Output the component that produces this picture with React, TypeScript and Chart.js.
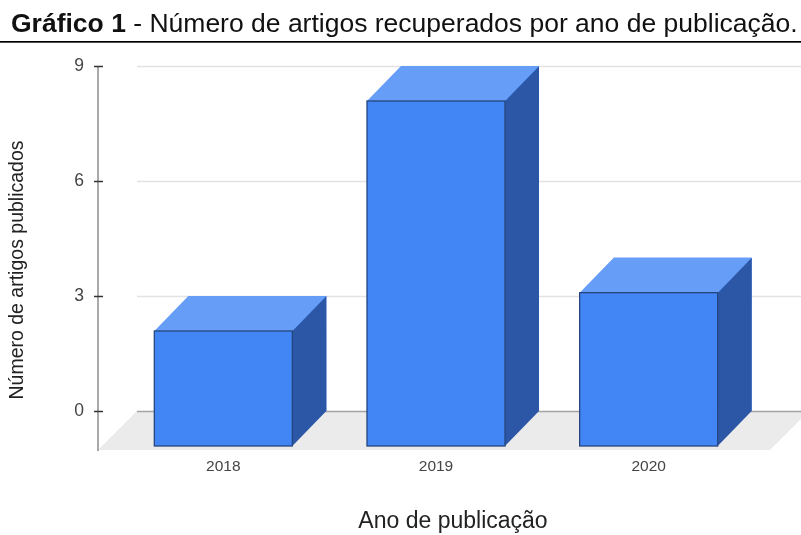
import React, { useEffect, useRef } from 'react';
import { Chart, registerables } from 'chart.js';

Chart.register(...registerables);

const TITLE_BOLD = 'Gráfico 1';
const TITLE_REST = ' - Número de artigos recuperados por ano de publicação.';
const Y_TITLE = 'Número de artigos publicados';
const X_TITLE = 'Ano de publicação';
const YEARS = ['2018', '2019', '2020'];
const ARTICLES = [3, 9, 4];
const Y_TICKS = [0, 3, 6, 9];

const FONT = '"Liberation Sans", Arial, sans-serif';
const DX = 34;
const DY = 35;
const FLOOR_DEPTH = 39;

const threeD = {
  id: 'threeD',
  beforeDatasetsDraw(chart: any) {
    const { ctx, chartArea: ca, scales } = chart;
    const y = scales.y;
    const y0 = y.getPixelForValue(0);
    const backL = ca.left - 14;
    const backR = ca.right + 20;
    ctx.save();
    // floor
    ctx.fillStyle = '#ebebeb';
    ctx.beginPath();
    ctx.moveTo(backL, y0);
    ctx.lineTo(backR, y0);
    ctx.lineTo(backR - FLOOR_DEPTH, y0 + FLOOR_DEPTH);
    ctx.lineTo(backL - FLOOR_DEPTH, y0 + FLOOR_DEPTH);
    ctx.closePath();
    ctx.fill();
    // gridlines on back wall
    Y_TICKS.forEach((t) => {
      const py = Math.round(y.getPixelForValue(t)) + 0.5;
      ctx.strokeStyle = t === 0 ? '#a3a3a3' : '#e3e3e3';
      ctx.lineWidth = t === 0 ? 1.6 : 1.3;
      ctx.beginPath();
      ctx.moveTo(backL, py);
      ctx.lineTo(chart.width, py);
      ctx.stroke();
    });
    // axis line
    const ax = backL - FLOOR_DEPTH;
    ctx.strokeStyle = '#8c8c8c';
    ctx.lineWidth = 1.5;
    ctx.beginPath();
    ctx.moveTo(ax, y.getPixelForValue(Y_TICKS[Y_TICKS.length - 1]));
    ctx.lineTo(ax, y0 + FLOOR_DEPTH + 1);
    ctx.stroke();
    // tick marks
    ctx.strokeStyle = '#333333';
    ctx.lineWidth = 1.5;
    Y_TICKS.forEach((t) => {
      const py = Math.round(y.getPixelForValue(t)) + 0.5;
      ctx.beginPath();
      ctx.moveTo(ax - 4, py);
      ctx.lineTo(ax + 5, py);
      ctx.stroke();
    });
    ctx.restore();
  },
  afterDatasetsDraw(chart: any) {
    const { ctx } = chart;
    const meta = chart.getDatasetMeta(0);
    ctx.save();
    meta.data.forEach((bar: any) => {
      const p = bar.getProps(['x', 'y', 'base', 'width'], true);
      const l = p.x - p.width / 2 - DX;
      const r = p.x + p.width / 2 - DX;
      const t = p.y + DY;
      const b = p.base + DY;
      // side face
      ctx.fillStyle = '#2b57a6';
      ctx.beginPath();
      ctx.moveTo(r, t);
      ctx.lineTo(r + DX, t - DY);
      ctx.lineTo(r + DX, b - DY);
      ctx.lineTo(r, b);
      ctx.closePath();
      ctx.fill();
      // top face
      ctx.fillStyle = '#669df6';
      ctx.beginPath();
      ctx.moveTo(l, t);
      ctx.lineTo(l + DX, t - DY);
      ctx.lineTo(r + DX, t - DY);
      ctx.lineTo(r, t);
      ctx.closePath();
      ctx.fill();
      // front face
      ctx.fillStyle = '#4285f4';
      ctx.fillRect(l, t, r - l, b - t);
      ctx.strokeStyle = '#26467d';
      ctx.lineWidth = 1.3;
      ctx.strokeRect(l, t, r - l, b - t);
    });
    ctx.restore();
  },
  afterDraw(chart: any) {
    const { ctx } = chart;
    ctx.save();
    // main title
    ctx.fillStyle = '#111111';
    ctx.textBaseline = 'alphabetic';
    ctx.textAlign = 'left';
    ctx.font = `bold 26.5px ${FONT}`;
    const x0 = 11;
    ctx.fillText(TITLE_BOLD, x0, 32);
    const w = ctx.measureText(TITLE_BOLD).width;
    ctx.font = `26.5px ${FONT}`;
    ctx.fillText(TITLE_REST, x0 + w, 32);
    ctx.fillStyle = '#000000';
    ctx.fillRect(0, 41, chart.width, 1.7);
    // y title
    ctx.fillStyle = '#222222';
    ctx.font = `19.5px ${FONT}`;
    ctx.translate(18, 270);
    ctx.rotate(-Math.PI / 2);
    ctx.textAlign = 'center';
    ctx.textBaseline = 'middle';
    ctx.fillText(Y_TITLE, 0, 0);
    ctx.setTransform(1, 0, 0, 1, 0, 0);
    // x title
    ctx.font = `23px ${FONT}`;
    ctx.textAlign = 'center';
    ctx.textBaseline = 'alphabetic';
    ctx.fillText(X_TITLE, 453, 528);
    ctx.restore();
  },
};

export default function App() {
  const ref = useRef<HTMLCanvasElement>(null);
  useEffect(() => {
    if (!ref.current) return;
    const chart = new Chart(ref.current, {
      type: 'bar',
      data: {
        labels: YEARS,
        datasets: [
          {
            data: ARTICLES,
            backgroundColor: '#4285f4',
            borderWidth: 0,
            categoryPercentage: 1,
            barPercentage: 0.649,
          },
        ],
      },
      options: {
        responsive: false,
        animation: false,
        devicePixelRatio: 1,
        layout: { padding: { top: 66, right: 12, left: 0, bottom: 0 } },
        plugins: {
          legend: { display: false },
          tooltip: { enabled: false },
          title: { display: false },
        },
        scales: {
          x: {
            type: 'category',
            offset: true,
            grid: { display: false, drawTicks: false },
            border: { display: false },
            ticks: {
              color: '#444444',
              font: { family: FONT, size: 15.5 },
              padding: 46,
              labelOffset: -DX,
              maxRotation: 0,
            },
            afterFit: (s: any) => {
              s.height = 124;
              s.paddingLeft = 0;
              s.paddingRight = 0;
            },
          },
          y: {
            min: 0,
            max: 9,
            grid: { display: false, drawTicks: false },
            border: { display: false },
            ticks: {
              stepSize: 3,
              color: '#444444',
              font: { family: FONT, size: 17.5 },
              padding: 67,
            },
            afterFit: (s: any) => {
              s.width = 151;
              s.paddingTop = 0;
              s.paddingBottom = 0;
            },
          },
        },
      },
      plugins: [threeD],
    });
    return () => chart.destroy();
  }, []);
  return (
    <div style={{ position: 'fixed', left: 0, top: 0, width: 801, height: 535, background: '#ffffff' }}>
      <canvas ref={ref} width={801} height={535} style={{ display: 'block' }} />
    </div>
  );
}
